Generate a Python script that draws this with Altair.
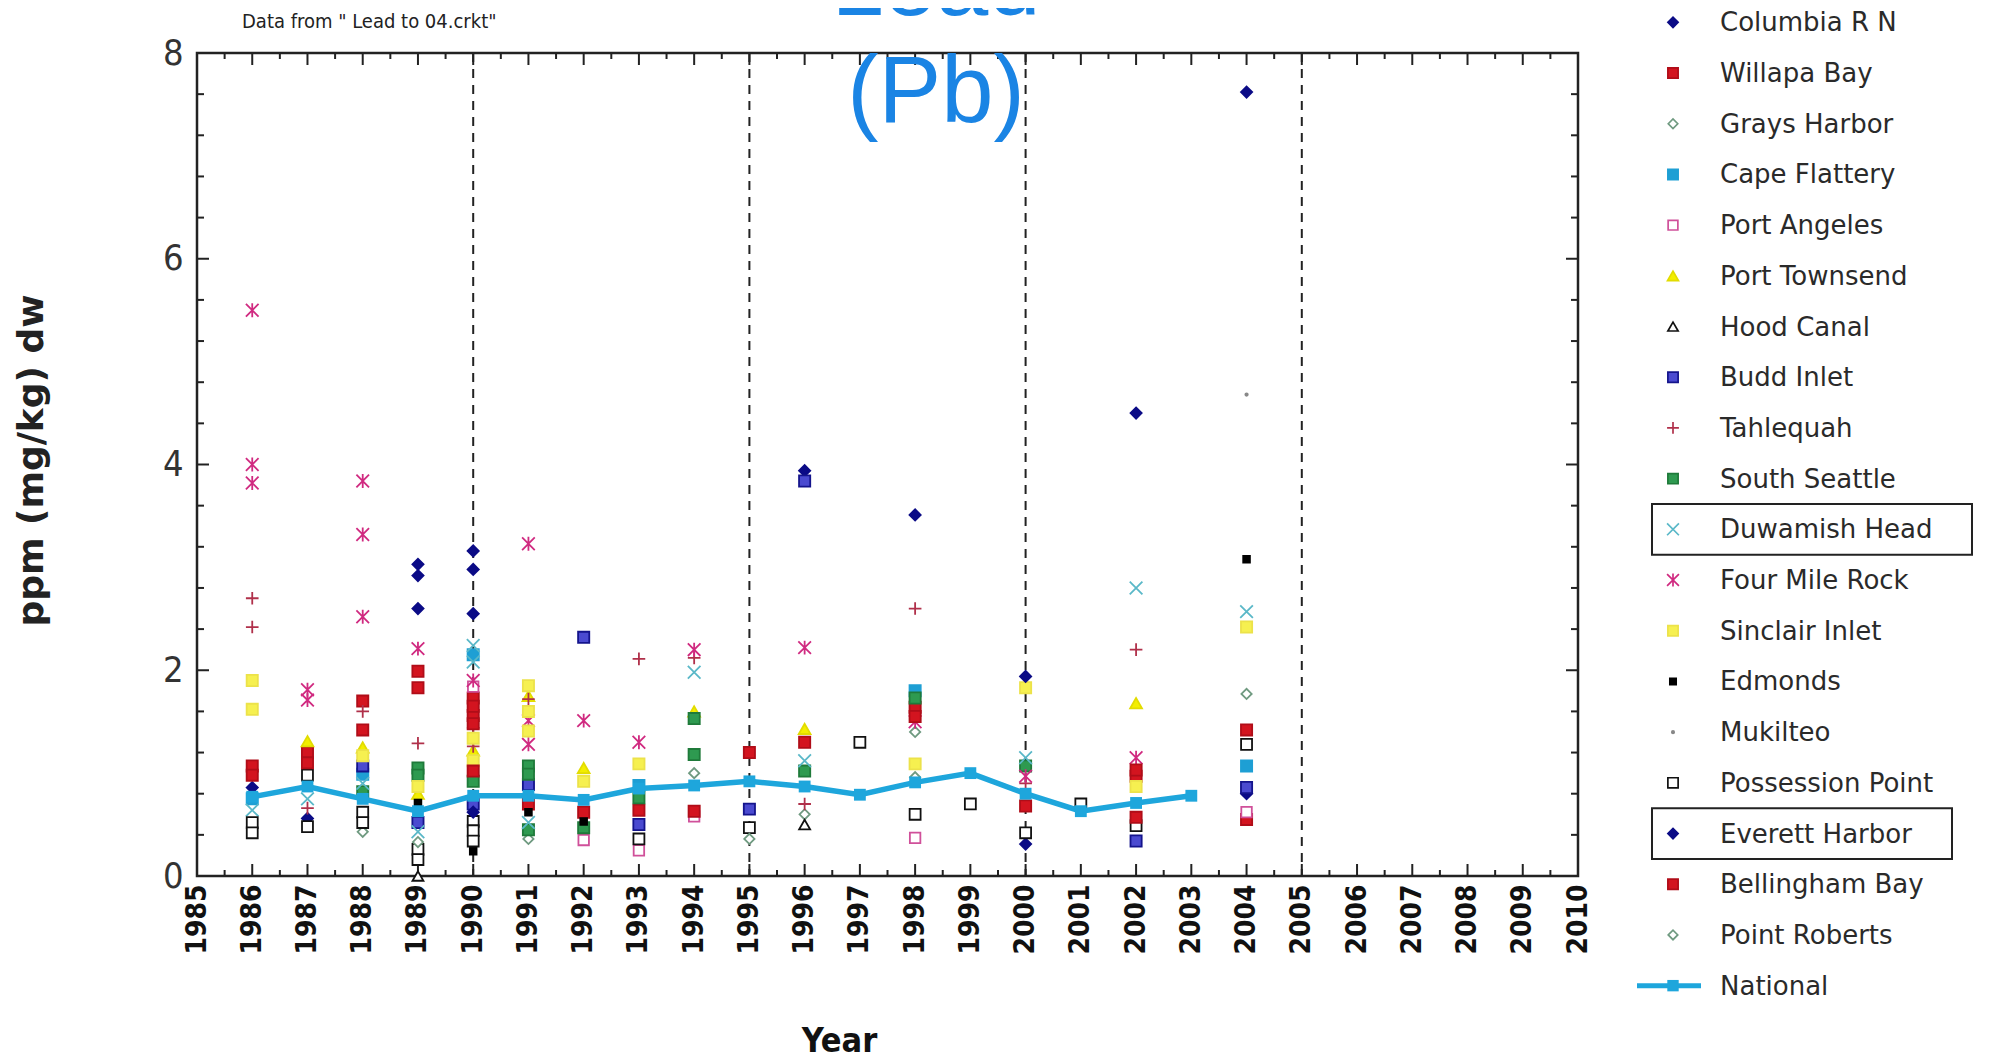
import altair as alt
import pandas as pd

# ---------------- data ----------------
SITES = ["Columbia R N", "Willapa Bay", "Grays Harbor", "Cape Flattery", "Port Angeles",
         "Port Townsend", "Hood Canal", "Budd Inlet", "Tahlequah", "South Seattle",
         "Duwamish Head", "Four Mile Rock", "Sinclair Inlet", "Edmonds", "Mukilteo",
         "Possession Point", "Everett Harbor", "Bellingham Bay", "Point Roberts"]

COLUMBIA_R_N = [(1986, 0.86), (1987, 0.56), (1989, 3.03), (1989, 2.92), (1990, 3.16), (1990, 2.98),
                (1996, 3.94), (2000, 0.31), (2002, 4.50), (2004, 0.80)]
WILLAPA_BAY = [(1986, 1.07), (1987, 1.20), (1988, 1.70), (1989, 1.99), (1990, 1.73), (1990, 1.56),
               (1991, 0.70), (1992, 0.62), (1993, 0.64), (1995, 1.20), (1998, 1.64), (2002, 0.97),
               (2004, 0.55)]
GRAYS_HARBOR = [(1988, 0.43), (1991, 0.36), (1994, 1.00), (1996, 0.60), (1998, 1.40)]
CAPE_FLATTERY = [(1986, 0.75), (1988, 0.99), (1990, 2.15), (1993, 0.88), (1998, 1.80), (2004, 1.07)]
PORT_ANGELES = [(1990, 1.84), (1992, 0.35), (1993, 0.25), (1994, 0.58), (1998, 0.37), (2004, 0.62)]
PORT_TOWNSEND = [(1987, 1.31), (1988, 1.25), (1989, 0.80), (1990, 1.22), (1991, 1.75), (1992, 1.05),
                 (1994, 1.60), (1996, 1.43), (2002, 1.68)]
HOOD_CANAL = [(1989, 0.0), (1996, 0.50)]
BUDD_INLET = [(1988, 1.07), (1989, 0.52), (1990, 0.70), (1991, 0.89), (1992, 2.32), (1993, 0.50),
              (1995, 0.65), (1996, 3.84), (2002, 0.34), (2004, 0.86)]
TAHLEQUAH = [(1986, 2.70), (1986, 2.42), (1987, 0.66), (1988, 1.60), (1989, 1.29), (1990, 1.44),
             (1990, 1.26), (1991, 1.72), (1993, 2.11), (1994, 2.12), (1996, 0.70), (1998, 2.60),
             (2000, 0.90), (2002, 2.20)]
SOUTH_SEATTLE = [(1988, 0.82), (1989, 1.05), (1989, 0.98), (1990, 0.92), (1991, 1.07), (1991, 0.99),
                 (1991, 0.45), (1992, 0.47), (1993, 0.76), (1994, 1.53), (1994, 1.18), (1996, 1.02),
                 (1998, 1.73), (2000, 1.07)]
DUWAMISH_HEAD = [(1986, 0.64), (1987, 0.75), (1988, 0.90), (1989, 0.43), (1990, 2.24), (1990, 2.08),
                 (1991, 0.52), (1994, 1.98), (1996, 1.12), (2000, 1.15), (2002, 2.80), (2004, 2.57)]
FOUR_MILE_ROCK = [(1986, 5.50), (1986, 4.00), (1986, 3.82), (1987, 1.81), (1987, 1.71), (1988, 3.84),
                  (1988, 3.32), (1988, 2.52), (1989, 2.21), (1990, 1.90), (1991, 3.23), (1991, 1.51),
                  (1991, 1.28), (1992, 1.51), (1993, 1.30), (1994, 2.20), (1996, 2.22), (1998, 1.50),
                  (2000, 0.97), (2002, 1.15)]
SINCLAIR_INLET = [(1986, 1.90), (1986, 1.62), (1988, 1.17), (1989, 0.87), (1990, 1.34), (1990, 1.12),
                  (1991, 1.85), (1991, 1.60), (1991, 1.41), (1992, 0.92), (1993, 1.09), (1998, 1.09),
                  (2000, 1.83), (2002, 0.87), (2004, 2.42)]
EDMONDS = [(1989, 0.71), (1990, 0.24), (1991, 0.62), (1992, 0.53), (2004, 3.08)]
MUKILTEO = [(2004, 4.68)]
POSSESSION_POINT = [(1986, 0.52), (1986, 0.42), (1987, 0.98), (1987, 0.48), (1988, 0.62), (1988, 0.52),
                    (1989, 0.26), (1989, 0.16), (1990, 0.53), (1990, 0.44), (1990, 0.34), (1993, 0.36),
                    (1995, 0.47), (1997, 1.30), (1998, 0.60), (1999, 0.70), (2000, 0.42), (2001, 0.70),
                    (2002, 0.49), (2004, 1.28)]
EVERETT_HARBOR = [(1989, 2.60), (1990, 2.55), (1990, 0.62), (1998, 3.51), (2000, 1.94), (2004, 7.62)]
BELLINGHAM_BAY = [(1986, 0.98), (1987, 1.10), (1988, 1.42), (1989, 1.83), (1990, 1.65), (1990, 1.48),
                  (1990, 1.02), (1994, 0.63), (1996, 1.30), (1998, 1.55), (2000, 0.68), (2002, 1.03),
                  (2002, 0.57), (2004, 1.42)]
POINT_ROBERTS = [(1989, 0.33), (1995, 0.36), (1998, 0.96), (2004, 1.77)]

NATIONAL_YEARS = [1986, 1987, 1988, 1989, 1990, 1991, 1992, 1993, 1994, 1995, 1996, 1997, 1998,
                  1999, 2000, 2001, 2002, 2003]
NATIONAL_PPM = [0.77, 0.87, 0.75, 0.63, 0.78, 0.78, 0.74, 0.85, 0.88, 0.92, 0.87, 0.79, 0.91,
                1.00, 0.80, 0.63, 0.71, 0.78]

YEAR_TICKS = [1985, 1986, 1987, 1988, 1989, 1990, 1991, 1992, 1993, 1994, 1995, 1996, 1997,
              1998, 1999, 2000, 2001, 2002, 2003, 2004, 2005, 2006, 2007, 2008, 2009, 2010]
PPM_TICKS = [0, 2, 4, 6, 8]
PERIOD_LINES = [1990, 1995, 2000, 2005]

SITE_POINTS = [COLUMBIA_R_N, WILLAPA_BAY, GRAYS_HARBOR, CAPE_FLATTERY, PORT_ANGELES, PORT_TOWNSEND,
               HOOD_CANAL, BUDD_INLET, TAHLEQUAH, SOUTH_SEATTLE, DUWAMISH_HEAD, FOUR_MILE_ROCK,
               SINCLAIR_INLET, EDMONDS, MUKILTEO, POSSESSION_POINT, EVERETT_HARBOR, BELLINGHAM_BAY,
               POINT_ROBERTS]

# ---------------- styles ----------------
PLUS = "M-1,0H1M0,-1V1"
CROSS = "M-1,-1L1,1M-1,1L1,-1"
STAR = "M-1,-1L1,1M-1,1L1,-1M0,-1.1V1.1"
SHAPES = ["diamond", "square", "diamond", "square", "square", "triangle-up", "triangle-up", "square",
          PLUS, "square", CROSS, STAR, "square", "square", "circle", "square", "diamond", "square",
          "diamond"]
FILLS = ["#0b0b86", "#d3141f", "#ffffff", "#1e9fd4", "#ffffff", "#f3ee00", "#ffffff", "#4a4ad0",
         "#b0304a", "#2e9a50", "#5ab8c8", "#d02a80", "#f6f050", "#000000", "#888888", "#ffffff",
         "#0b0b86", "#d3141f", "#ffffff"]
STROKES = ["#0b0b86", "#b00d18", "#6f9a80", "#1e9fd4", "#d0509a", "#e2dc00", "#111111", "#14148c",
           "#b0304a", "#1f7a3a", "#5ab8c8", "#d02a80", "#ece24a", "#000000", "#888888", "#111111",
           "#0b0b86", "#b00d18", "#6f9a80"]
SIZES = [125, 125, 105, 125, 110, 140, 120, 125, 160, 125, 160, 160, 125, 45, 6, 120, 125, 125, 105]
LEGEND_SIZES = [105, 105, 90, 105, 95, 120, 105, 105, 140, 105, 140, 140, 105, 40, 6, 105, 105, 105, 90]
SIZE_OF = dict(zip(SITES, SIZES))
LEG_SIZE_OF = dict(zip(SITES, LEGEND_SIZES))

NAT_COLOR = "#1ea6dc"
FRAME = "#222222"
NARROW = "DejaVu Sans Condensed"

W, H = 1381, 823

rows = []
for s, pts in zip(SITES, SITE_POINTS):
    for yr, v in pts:
        rows.append({"site": s, "year": yr, "ppm": v, "sz": SIZE_OF[s]})
pts_df = pd.DataFrame(rows)
nat_df = pd.DataFrame({"year": NATIONAL_YEARS, "ppm": NATIONAL_PPM})

xs = alt.Scale(domain=[1985, 2010], nice=False, zero=False)
ys = alt.Scale(domain=[0, 8], nice=False, zero=False)

x_axis = alt.Axis(values=YEAR_TICKS, format="d", labelAngle=-90, labelAlign="right",
                  labelBaseline="middle", labelFont=NARROW, labelFontSize=28, labelFontWeight="bold",
                  labelColor="#111", labelPadding=8, labelFlush=False, labelOverlap=False,
                  tickSize=0, domain=False, grid=False, title="Year", titleFont=NARROW,
                  titleFontSize=34, titleFontWeight="bold", titleColor="#111", titleX=642,
                  titleY=165, titleBaseline="middle", titleAlign="center")
y_axis = alt.Axis(values=PPM_TICKS, format="d", labelFont=NARROW, labelFontSize=36,
                  labelColor="#333", labelPadding=14, labelFlush=False, tickSize=0, domain=False,
                  grid=False, title="ppm (mg/kg) dw", titleFont="DejaVu Sans", titleFontSize=36,
                  titleFontWeight="bold", titleColor="#222", titleX=-166, titleY=407,
                  titleBaseline="middle", titleAlign="center", titleAngle=-90)

X = alt.X("year:Q", scale=xs, axis=x_axis)
Y = alt.Y("ppm:Q", scale=ys, axis=y_axis)

shape_enc = alt.Shape("site:N", scale=alt.Scale(domain=SITES, range=SHAPES), legend=None)
fill_enc = alt.Fill("site:N", scale=alt.Scale(domain=SITES, range=FILLS), legend=None)
stroke_enc = alt.Stroke("site:N", scale=alt.Scale(domain=SITES, range=STROKES), legend=None)
size_enc = alt.Size("sz:Q", scale=None, legend=None)

# tick marks drawn inside the frame
year_df = pd.DataFrame({"year": YEAR_TICKS})
half_df = pd.DataFrame({"year": [t + 0.5 for t in YEAR_TICKS[:-1]]})
ymaj_df = pd.DataFrame({"ppm": [2, 4, 6]})
ymin_df = pd.DataFrame({"ppm": [round(0.4 * i, 2) for i in range(1, 20) if i % 5 != 0]})


def xticks(df, length):
    b = alt.Chart(df).mark_rule(color=FRAME, strokeWidth=2).encode(
        x=X, y=alt.value(H), y2=alt.value(H - length))
    t = alt.Chart(df).mark_rule(color=FRAME, strokeWidth=2).encode(
        x=X, y=alt.value(0), y2=alt.value(length))
    return [b, t]


def yticks(df, length):
    l = alt.Chart(df).mark_rule(color=FRAME, strokeWidth=2).encode(
        y=Y, x=alt.value(0), x2=alt.value(length))
    r = alt.Chart(df).mark_rule(color=FRAME, strokeWidth=2).encode(
        y=Y, x=alt.value(W), x2=alt.value(W - length))
    return [l, r]


period = alt.Chart(pd.DataFrame({"year": PERIOD_LINES})).mark_rule(
    color=FRAME, strokeWidth=2, strokeDash=[9, 7]).encode(x=X)

points = alt.Chart(pts_df).mark_point(filled=True, opacity=1, strokeWidth=1.8).encode(
    x=X, y=Y, shape=shape_enc, fill=fill_enc, stroke=stroke_enc, size=size_enc)

national = alt.Chart(nat_df).mark_line(
    color=NAT_COLOR, strokeWidth=5.5,
    point=alt.OverlayMarkDef(shape="square", size=140, filled=True, color=NAT_COLOR, opacity=1)
).encode(x=X, y=Y)

one = pd.DataFrame({"k": [0]})
title_lead = alt.Chart(one).mark_text(font="Liberation Sans", fontSize=94, color="#1a84e4",
                                      align="center", baseline="alphabetic").encode(
    x=alt.value(739), y=alt.value(-38), text=alt.value("Lead"))
title_pb = alt.Chart(one).mark_text(font="Liberation Sans", fontSize=94, color="#1a84e4",
                                    align="center", baseline="alphabetic").encode(
    x=alt.value(739), y=alt.value(69), text=alt.value("(Pb)"))
source = alt.Chart(one).mark_text(font="DejaVu Sans Condensed", fontSize=20, color="#222",
                                  align="left", baseline="middle").encode(
    x=alt.value(45), y=alt.value(-31), text=alt.value('Data from " Lead to 04.crkt"'))

main = alt.layer(
    period, *xticks(year_df, 12), *xticks(half_df, 6), *yticks(ymaj_df, 12), *yticks(ymin_df, 7),
    points, national, title_pb, title_lead, source
).properties(width=W, height=H, view=alt.ViewBackground(stroke=FRAME, strokeWidth=2.5))

# ---------------- legend panel ----------------
LEGEND_ORDER = SITES + ["National"]
leg_df = pd.DataFrame({"site": LEGEND_ORDER,
                       "sz": [LEG_SIZE_OF.get(s, 0) for s in LEGEND_ORDER]})
ly = alt.Y("site:N", scale=alt.Scale(type="band", domain=LEGEND_ORDER, range=[-56, 958],
                                     paddingInner=0, paddingOuter=0), axis=None)

leg_sym = alt.Chart(leg_df).transform_filter(alt.datum.site != "National").mark_point(
    filled=True, opacity=1, strokeWidth=1.7).encode(
    y=ly, x=alt.value(44), shape=shape_enc, fill=fill_enc, stroke=stroke_enc, size=size_enc)
leg_text = alt.Chart(leg_df).mark_text(font="DejaVu Sans", fontSize=26, color="#2a2a2a",
                                       align="left", baseline="middle", dy=1).encode(
    y=ly, x=alt.value(91), text="site:N")
leg_line = alt.Chart(leg_df).transform_filter(alt.datum.site == "National").mark_rule(
    color=NAT_COLOR, strokeWidth=5).encode(y=ly, x=alt.value(8), x2=alt.value(72))
leg_sq = alt.Chart(leg_df).transform_filter(alt.datum.site == "National").mark_square(
    color=NAT_COLOR, size=130, opacity=1).encode(y=ly, x=alt.value(44))
box1 = alt.Chart(leg_df).transform_filter(alt.datum.site == "Duwamish Head").mark_rect(
    fill=None, stroke=FRAME, strokeWidth=2).encode(y=ly, x=alt.value(23), x2=alt.value(343))
box2 = alt.Chart(leg_df).transform_filter(alt.datum.site == "Everett Harbor").mark_rect(
    fill=None, stroke=FRAME, strokeWidth=2).encode(y=ly, x=alt.value(23), x2=alt.value(323))

legend = alt.layer(leg_sym, leg_text, leg_line, leg_sq, box1, box2).properties(
    width=340, height=H, view=alt.ViewBackground(stroke="transparent", strokeWidth=0))

chart = alt.hconcat(main, legend, spacing=35).properties(
    padding={"left": 3, "top": -70, "right": 2, "bottom": 2}
).configure_view(stroke="transparent", strokeWidth=0).configure(background="white")

chart.save("out.html", embed_options={"renderer": "svg", "actions": False})
